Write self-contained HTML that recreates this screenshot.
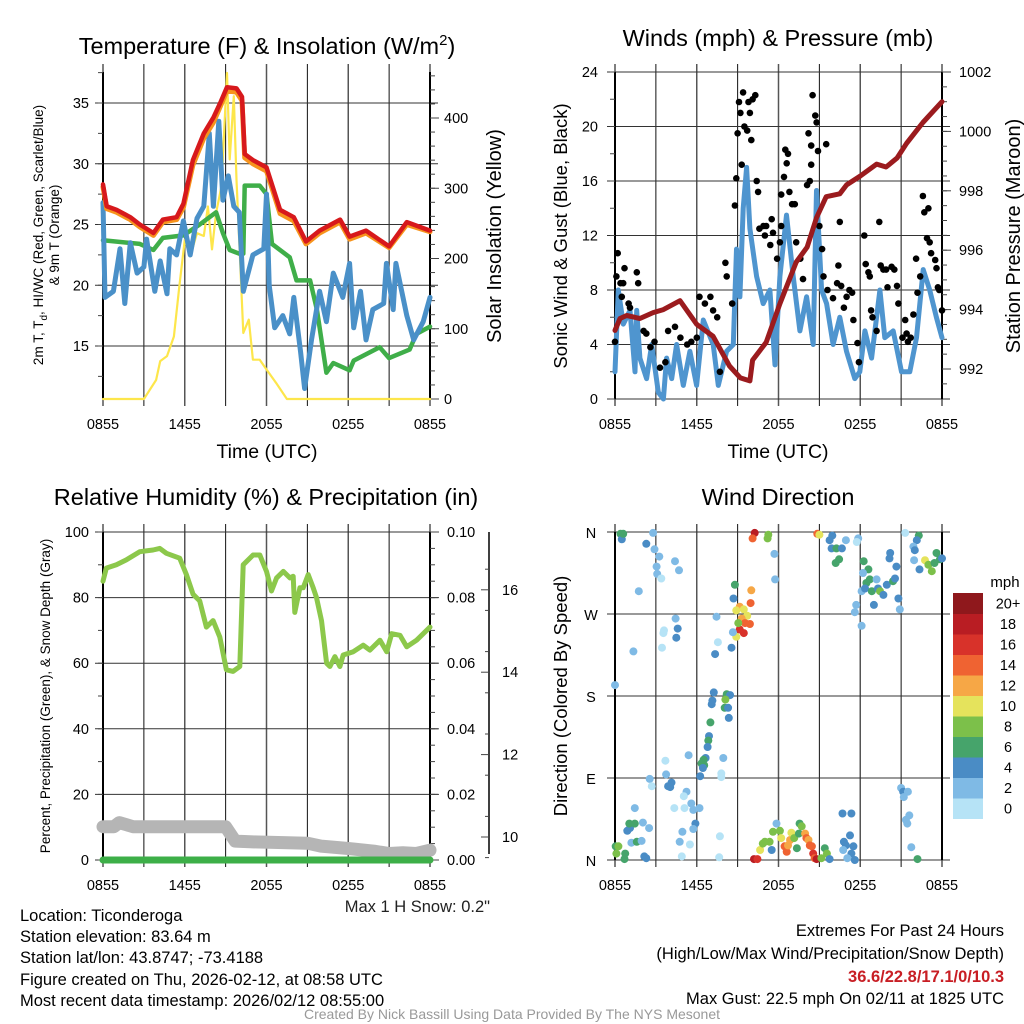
<!DOCTYPE html>
<html><head><meta charset="utf-8"><style>
html,body{margin:0;padding:0;background:#fff;}
svg{display:block;font-family:"Liberation Sans",Arial,sans-serif;}
</style></head><body>
<svg id="fig" width="1024" height="1024" viewBox="0 0 1024 1024">
<rect x="0" y="0" width="1024" height="1024" fill="#fff"/>
<text x="267" y="54" font-size="23.5" text-anchor="middle">Temperature (F) &amp; Insolation (W/m<tspan dy="-9" font-size="15">2</tspan><tspan dy="9">)</tspan></text>
<text x="778" y="46" font-size="23.5" text-anchor="middle">Winds (mph) &amp; Pressure (mb)</text>
<text x="266" y="505" font-size="23.5" text-anchor="middle">Relative Humidity (%) &amp; Precipitation (in)</text>
<text x="778" y="505" font-size="23.5" text-anchor="middle">Wind Direction</text>
<text x="267" y="458" font-size="19.5" text-anchor="middle">Time (UTC)</text>
<text x="778" y="458" font-size="19.5" text-anchor="middle">Time (UTC)</text>
<text transform="translate(43,235) rotate(-90)" font-size="13.5" text-anchor="middle">2m T, T<tspan dy="4" font-size="10">d</tspan><tspan dy="-4">, HI/WC (Red, Green, Scarlet/Blue)</tspan></text>
<text transform="translate(59,235) rotate(-90)" font-size="13.5" text-anchor="middle">&amp; 9m T (Orange)</text>
<text transform="translate(501,236) rotate(-90)" font-size="20" text-anchor="middle">Solar Insolation (Yellow)</text>
<text transform="translate(567,236) rotate(-90)" font-size="18.5" text-anchor="middle">Sonic Wind &amp; Gust (Blue, Black)</text>
<text transform="translate(1020,236) rotate(-90)" font-size="20" text-anchor="middle">Station Pressure (Maroon)</text>
<text transform="translate(50,696) rotate(-90)" font-size="13.5" text-anchor="middle">Percent, Precipitation (Green), &amp; Snow Depth (Gray)</text>
<text transform="translate(567,696) rotate(-90)" font-size="18.5" text-anchor="middle">Direction (Colored By Speed)</text>
<text x="490" y="912" font-size="16.5" text-anchor="end" fill="#222">Max 1 H Snow: 0.2"</text>
<g font-size="16.5" fill="#000">
<text x="20" y="921">Location: Ticonderoga</text>
<text x="20" y="942">Station elevation: 83.64 m</text>
<text x="20" y="963">Station lat/lon: 43.8747; -73.4188</text>
<text x="20" y="985">Figure created on Thu, 2026-02-12, at 08:58 UTC</text>
<text x="20" y="1006">Most recent data timestamp: 2026/02/12 08:55:00</text>
</g>
<g font-size="16.5" text-anchor="end">
<text x="1004" y="936">Extremes For Past 24 Hours</text>
<text x="1004" y="959">(High/Low/Max Wind/Precipitation/Snow Depth)</text>
<text x="1004" y="982" fill="#c81e24" font-weight="bold">36.6/22.8/17.1/0/10.3</text>
<text x="1004" y="1004">Max Gust: 22.5 mph On 02/11 at 1825 UTC</text>
</g>
<text x="512" y="1019" font-size="14" text-anchor="middle" fill="#999">Created By Nick Bassill Using Data Provided By The NYS Mesonet</text>
<text x="1005" y="587" font-size="15" text-anchor="middle">mph</text>
</svg>
<script>
// ---------- DATA ----------
const timeTicks = [0, 6, 12, 18, 24];
const timeTickLabels = ["0855", "1455", "2055", "0255", "0855"];

const tempTicks = [15, 20, 25, 30, 35];
const solarTicks = [0, 100, 200, 300, 400];

const redT = [0,0.27,1,2,2.7,3.7,4.4,5.4,5.9,6.6,7.4,8.1,8.6,9.1,9.8,10.2,10.4,11,12,13,14,14.9,15.9,17.4,18.1,19.3,21,22.3,24];
const redV = [28.3,26.5,26.2,25.6,25,24.3,25.4,25.6,26.7,30.3,32.5,33.8,35,36.3,36.2,35.5,30.8,30.3,29.7,26.2,25.6,23.6,24.5,25.4,24,24.5,23.2,25.2,24.5];
const orangeV = [28.1,26.3,26.0,25.4,24.8,24.1,25.2,25.4,26.4,29.9,32.1,33.4,34.7,36.0,35.9,35.2,30.5,30.0,29.4,25.9,25.3,23.4,24.3,25.2,23.8,24.3,23.1,25.0,24.4];

const greenT = [0,2.7,3.7,4.4,5.9,7.1,8.3,8.8,9.3,10,10.3,10.4,11.5,12,12.4,13.7,14.2,15.2,15.7,16.4,16.9,18.1,18.4,20.3,21,22.5,23,24];
const greenV = [23.7,23.4,22.9,23.9,24.1,25,26,24.3,22.9,22.6,22.6,28.2,28.2,27.5,23.4,22.3,20.4,20.4,18,12.8,13.6,13,13.8,14.9,14,14.7,16,16.6];

const blueT = [0,0.15,0.76,1.25,1.6,2.0,2.5,3.0,3.2,3.8,4.2,4.7,4.9,5.4,5.9,6.4,6.9,7.4,7.8,8.1,8.5,8.8,9.2,9.6,10.0,10.3,11.0,11.8,12.0,12.2,12.6,13.2,13.7,14.0,14.5,14.8,15.3,15.9,16.4,16.9,17.6,18.1,18.4,18.9,19.3,19.8,20.6,20.8,21.3,21.5,22.3,22.8,23.5,24];
const blueV = [26.8,19,19.5,23,18.5,23.5,21,21.5,23.8,19.5,22,19.3,23,22.5,25.3,22.5,25.5,26.5,32.5,26.5,33.5,27,29,26.5,26,19.5,22.5,23.0,27.5,20,16.5,17.5,16,19,14.5,11.5,15.5,19.5,17,21,19,21.8,16.5,19.5,15.5,18,18.5,21.8,18,21.8,17.5,15.5,17,19];

const solarT = [0,3.0,3.9,4.2,4.7,5.2,5.6,6.0,6.4,6.9,7.4,7.7,8.0,8.3,8.7,9.1,9.3,9.6,9.8,10.3,10.7,11.0,11.5,12.0,12.7,13.5,24];
const solarV = [0,0,27,54,61,89,160,227,203,236,232,274,213,265,303,464,341,431,312,94,113,56,56,42,23,0,0];

const windTicks = [0, 4, 8, 12, 16, 20, 24];
const pressTicks = [992, 994, 996, 998, 1000, 1002];

const pressT = [0,0.37,0.86,1.83,2.8,3.55,4.77,6.0,7.2,8.4,9.2,9.9,10.1,11.1,12.1,13.3,14.1,14.8,15.5,16.5,17.0,18.0,19.2,19.9,20.7,21.4,22.6,24];
const pressV = [993.3,993.7,993.8,993.7,993.9,994.0,994.3,993.5,993.1,992.1,991.7,991.6,992.3,992.9,994.2,995.6,996.1,997.1,997.8,997.9,998.2,998.5,998.9,998.8,999.1,999.6,1000.3,1001.0];

const windT = [0,0.24,0.61,1.1,1.47,1.59,1.83,2.32,2.69,3.18,3.55,3.79,4.16,4.52,5.01,5.5,5.99,6.48,7.21,7.58,8.19,8.68,8.92,9.17,9.41,9.66,9.9,10.39,10.88,11.37,11.74,12.1,12.59,13.08,13.57,14.06,14.55,14.79,15.16,15.53,16.01,16.5,16.99,17.6,17.97,18.34,18.83,19.44,19.8,20.42,21.03,21.64,22.13,22.62,23.1,23.59,24];
const windV = [2,8,5.5,6.5,2,6.5,3,1.5,4,0.5,0,3,1.5,4,1,3.5,1,5.8,4,1,3.5,4,11,7.5,14,17,12.5,9,7,8,2.5,9,13.5,9,5,7.5,4,15.3,8,7,4,6,3.5,1.5,2,5,3,8,4.5,5,2,2,4.5,9.5,8,6,4.5];

const gustT = [0,0.1,0.2,0.4,0.6,0.7,0.5,1.0,1.1,1.6,1.7,2.1,2.3,2.6,2.9,3.3,3.7,3.9,4.4,4.8,5.3,5.6,6.0,6.2,6.6,7.0,7.2,7.5,7.7,8.1,8.2,8.6,8.8,8.9,9.0,9.1,9.2,9.3,9.4,9.5,9.7,9.8,9.9,10.0,10.1,10.3,10.4,10.5,10.6,10.9,11.0,11.1,11.4,11.5,11.6,11.9,12.1,12.2,12.2,12.4,12.5,12.6,12.7,12.8,13.0,13.2,13.3,13.6,13.8,14.1,14.2,14.3,14.4,14.4,14.5,14.7,14.8,14.9,15.0,15.2,15.3,15.5,15.6,16.0,16.3,16.4,16.5,16.6,16.8,17.0,17.2,17.4,17.5,17.8,17.9,18.3,18.4,18.6,18.7,18.8,18.9,19.2,19.4,19.5,19.7,19.9,20.0,20.3,20.5,20.7,20.8,21.1,21.3,21.4,21.5,21.7,21.9,22.1,22.2,22.4,22.6,22.7,23.0,22.9,23.1,23.2,23.5,23.6,23.7,23.8,24.0];
const gustV = [4.2,9,10.7,8.5,8.5,9.6,7.5,7,6.7,9.3,8.5,5,4.8,3.8,4.2,2.3,2.7,5,5.3,4.5,4,4.2,4.5,7.5,7,7.5,6.5,6,2,10,9,7,14.2,16.2,19.5,21.8,21,17.2,22.5,20,19.7,21.8,21,19,22,22.3,16,15.2,12.5,12.7,12,12.7,11.3,13.2,12.2,10.3,11.5,12.7,15,16.3,18.3,17.3,18,15.2,14.3,14.3,11.5,10.3,8.8,15.7,19.5,16,17.2,18.6,22.3,20.8,20.3,18.2,12.7,11,9,18.7,8,7.4,8.5,9.8,13,8.3,6.7,7.5,8,7.8,5.8,4.1,2.7,12,9.9,9.3,9,6.5,6,5,13,9.8,9.5,9.5,8.2,9.7,9.5,8.3,7,4.5,5.8,4.8,4.2,4.5,6.2,10.3,7.8,9,14.9,13.7,14,11.8,11.5,10.7,10.2,9.6,8.2,8,6.5];

const rhTicks = [0, 20, 40, 60, 80, 100];
const precipTickLabels = ["0.00", "0.02", "0.04", "0.06", "0.08", "0.10"];
const snowTicks = [10, 12, 14, 16];

const rhT = [0,0.24,0.98,1.71,2.69,3.67,4.16,4.65,5.63,6.12,6.61,7.1,7.59,8.08,8.57,9.06,9.55,10.04,10.29,11.02,11.51,12.0,12.37,12.74,13.23,13.72,13.96,14.08,14.45,14.69,15.06,15.43,15.67,16.04,16.41,16.65,17.02,17.39,17.63,18.37,19.1,19.59,20.33,20.82,21.19,21.8,22.29,23.02,24];
const rhV = [85,89,90,91.5,94,94.5,95,93.5,92,87,81,79,71,73,68,58,57.5,59,90,93,93,88,82,86,88,86,86.5,75.5,83,83,87,83,80,73,60,59,62,59,62.5,63.5,65.5,64,67,63.5,69,68.5,65,67,71];

const precipT = [0, 24];
const precipV = [0, 0];

const snowT = [0,0.8,1.2,1.7,2.2,9.0,9.7,11,15,16,18,20,21,22,23,24];
const snowV = [10.25,10.25,10.35,10.3,10.25,10.25,9.9,9.88,9.85,9.78,9.72,9.65,9.6,9.62,9.6,9.68];

const dirTicks = [0, 90, 180, 270, 360];
const dirTickLabels = ["N", "E", "S", "W", "N"];
const dirT = [0.4,0.5,0.6,2.3,2.8,2.9,3.25,3.05,3.1,3.4,4.4,4.7,1.75,8.8,8.7,10.0,9.95,9.15,8.9,9.45,9.7,9.3,9.55,9.9,9.15,9.45,9.05,8.9,8.65,8.55,7.45,7.55,7.35,10.25,10.1,11.25,11.2,11.7,11.75,14.85,15.0,15.95,15.75,15.9,16.25,16.65,16.45,16.2,16.95,17.85,17.75,18.25,18.6,18.2,18.1,18.45,18.35,18.7,18.85,19.2,19.3,19.45,19.7,19.95,20.15,20.2,20.4,20.55,20.65,20.8,20.9,19.0,17.7,17.6,18.1,21.3,22.3,22.15,21.9,22.0,21.95,22.35,22.75,23.0,23.25,23.6,23.85,23.45,24.0,1.35,0,3.55,3.6,3.45,4.45,4.6,4.5,7.25,7.15,7.1,8.2,8.45,8.1,8.05,8.3,8.35,7.0,6.9,6.85,6.8,6.65,6.5,6.35,6.55,6.45,6.25,7.95,7.8,7.8,5.4,3.7,3.75,2.55,2.7,3.9,4.15,4.05,5.25,5.05,5.6,6.2,5.75,5.9,5.75,4.35,5.1,1.45,0.05,0.25,0.1,0.75,0.7,0.9,1.1,1.05,1.45,1.2,1.6,1.95,2.05,2.5,2.15,2.3,4.95,4.75,5.5,4.9,7.7,7.65,10.2,10.45,10.65,10.85,11.0,11.35,11.6,11.5,11.85,12.1,12.2,12.45,12.6,12.7,12.85,12.95,13.15,13.35,13.55,13.7,13.5,13.95,14.05,14.2,14.3,14.45,14.55,14.65,14.8,15.15,15.4,15.55,15.75,16.7,17.35,16.8,16.95,17.25,17.5,17.35,17.05,17.6,16.75,21.0,21.15,21.5,21.2,21.6,21.45,21.35,21.75,22.2];
const dirDeg = [358,352,358,347,359,341,333,322,314,309,328,318,295,302,287,296,282,278,274,275,268,265,260,259,253,249,260,245,250,233,267,239,226,359,353,357,353,336,308,358,357,356,351,342,342,342,330,326,351,353,349,328,319,315,295,304,298,308,295,308,298,295,291,302,331,337,306,309,322,287,275,280,280,272,257,359,356,351,344,340,329,319,329,324,317,337,330,326,331,229,192,249,252,233,265,254,244,184,175,171,182,181,176,167,167,156,151,136,131,124,112,110,106,104,101,92,112,95,91,115,109,94,89,81,81,85,80,75,70,62,57,55,40,34,57,57,57,15,15,7,7,1,32,35,40,40,19,20,21,41,35,4,2,31,20,17,4,26,3,1,1,11,18,20,20,31,11,40,32,24,15,9,16,22,30,24,13,40,37,29,29,24,22,16,15,7,2,1,2,13,7,1,51,51,20,16,27,15,7,2,0,11,79,75,75,69,49,40,44,14,1];
const dirSpd = [6.5,4.5,6.5,4.5,2.5,2.5,2.5,2.5,2.5,0.5,2.5,2.5,2.5,6.5,4.5,12.5,14.5,12.5,10.5,10.5,10.5,12.5,14.5,14.5,16.5,16.5,8.5,10.5,2.5,4.5,2.5,0.5,4.5,18.5,14.5,8.5,8.5,2.5,2.5,14.5,10.5,4.5,4.5,4.5,6.5,4.5,6.5,6.5,2.5,2.5,0.5,6.5,6.5,2.5,2.5,6.5,4.5,6.5,6.5,2.5,4.5,8.5,4.5,4.5,4.5,4.5,6.5,4.5,4.5,4.5,2.5,4.5,2.5,2.5,2.5,0.5,6.5,4.5,2.5,4.5,2.5,4.5,10.5,8.5,8.5,6.5,6.5,6.5,4.5,2.5,2.5,0.5,0.5,0.5,2.5,4.5,4.5,4.5,4.5,4.5,6.5,4.5,8.5,6.5,4.5,4.5,6.5,4.5,6.5,4.5,4.5,6.5,6.5,6.5,4.5,4.5,2.5,0.5,0.5,2.5,0.5,2.5,2.5,0.5,4.5,4.5,4.5,2.5,0.5,2.5,2.5,2.5,4.5,2.5,0.5,0.5,2.5,6.5,8.5,8.5,6.5,6.5,4.5,4.5,6.5,6.5,2.5,6.5,2.5,2.5,2.5,4.5,4.5,2.5,2.5,0.5,0.5,0.5,0.5,18.5,16.5,10.5,8.5,8.5,8.5,8.5,4.5,2.5,8.5,10.5,14.5,14.5,12.5,12.5,10.5,8.5,6.5,6.5,8.5,6.5,12.5,14.5,12.5,14.5,14.5,16.5,14.5,18.5,8.5,6.5,8.5,4.5,4.5,4.5,4.5,4.5,4.5,4.5,4.5,2.5,4.5,2.5,2.5,4.5,2.5,2.5,2.5,2.5,2.5,2.5,6.5];

const cbLabels = ["0", "2", "4", "6", "8", "10", "12", "14", "16", "18", "20+"];
const cbColors = ["#b6e3f6","#7fbae5","#4a8cc5","#46a46b","#7cc04a","#e5e35c","#f6a746","#ef6332","#d8322a","#b91d23","#8f181c"];

// ---------- DRAWING ----------
const NS = "http://www.w3.org/2000/svg";
const svg = document.getElementById("fig");
function mk(tag, attrs, parent) {
  const e = document.createElementNS(NS, tag);
  for (const k in attrs) e.setAttribute(k, attrs[k]);
  (parent || svg).appendChild(e);
  return e;
}
function pathD(xs, ys, fx, fy) {
  let d = "";
  for (let i = 0; i < xs.length; i++) d += (i ? "L" : "M") + fx(xs[i]).toFixed(1) + "," + fy(ys[i]).toFixed(1);
  return d;
}
function drawLine(g, xs, ys, fx, fy, color, w, name) {
  const p = mk("path", {d: pathD(xs, ys, fx, fy), fill: "none", stroke: color, "stroke-width": w, "stroke-linejoin": "round", "stroke-linecap": "round"}, g);
  
  
  return p;
}
function txt(g, x, y, s, size, anchor, name) {
  const t = mk("text", {x: x, y: y, "font-size": size, "text-anchor": anchor}, g);
  t.textContent = s;
  
  
  return t;
}
function frame(g, x0, x1, y0, y1, hVals, fy, name) {
  const grid = mk("g", {stroke: "#111", "stroke-width": 1}, g);
  
  
  for (let k = 0; k <= 8; k++) {
    const x = x0 + k * (x1 - x0) / 8;
    const vl = mk("line", {x1: x, x2: x, y1: y0 - 8, y2: y1 + 7, stroke: (k % 2 ? "#111" : "#555"), "stroke-width": (k % 2 ? 1 : 1.5)}, grid);
    
    
  }
  hVals.forEach(v => {
    const y = fy(v);
    const hl = mk("line", {x1: x0 - 8, x2: x1 + 8, y1: y, y2: y, stroke: "#333"}, grid);
    
    
  });
  const l = mk("line", {x1: x0, x2: x0, y1: y0, y2: y1, stroke: "#000", "stroke-width": 2}, g);
  
  
  const r = mk("line", {x1: x1, x2: x1, y1: y0, y2: y1, stroke: "#000", "stroke-width": 2}, g);
  
  
}
function xLabels(g, x0, x1, y, name) {
  timeTicks.forEach((t, i) => {
    txt(g, x0 + t / 24 * (x1 - x0), y, timeTickLabels[i], 14.5, "middle", name + '-x-tick-label');
  });
}
function minorTicks(g, xa, dir, ys, len) {
  ys.forEach(y => {
    const m = mk("line", {x1: xa, x2: xa + dir * len, y1: y, y2: y, stroke: "#444", "stroke-width": 1}, g);
    
    
  });
}

// ===== Panel 1: temperature =====
{
  const x0 = 103, x1 = 430, y0 = 72, y1 = 399;
  const fx = t => x0 + t / 24 * (x1 - x0);
  const fy = v => 346 - (v - 15) * 12.15;
  const fs = s => 399 - s * 0.7025;
  const g = mk("g", {});
  
  
  frame(g, x0, x1, y0, y1, tempTicks, fy, 'temperature');
  const mt = []; for (let v = 12.5; v <= 37.5; v += 2.5) mt.push(fy(v));
  minorTicks(g, x0, -1, mt, 5);
  const ms = []; for (let s = 0; s <= 460; s += 20) ms.push(fs(s));
  minorTicks(g, x1, 1, ms, 5);
  solarTicks.forEach(s => { minorTicks(g, x1, 1, [fs(s)], 9); });
  tempTicks.forEach(v => txt(g, 89, fy(v) + 5, String(v), 14.5, "end", 'temp-y-tick-label'));
  solarTicks.forEach(s => txt(g, 444, fs(s) + 5, String(s), 14.5, "start", 'solar-y-tick-label'));
  xLabels(g, x0, x1, 429, 'temperature');
  drawLine(g, solarT, solarV, fx, fs, "#fde64b", 2.2, 'solar-insolation-line');
  drawLine(g, greenT, greenV, fx, fy, "#3fae49", 4.5, 'dewpoint-line');
  drawLine(g, blueT, blueV, fx, fy, "#4a90c8", 5, 'windchill-line');
  drawLine(g, redT, orangeV, fx, fy, "#f7941d", 5, 'temp-9m-line');
  drawLine(g, redT, redV, fx, fy, "#d7191c", 4.5, 'temp-2m-line');
}

// ===== Panel 2: winds =====
{
  const x0 = 615, x1 = 942, y0 = 72, y1 = 399;
  const fx = t => x0 + t / 24 * (x1 - x0);
  const fw = w => 399 - w * 13.625;
  const fp = p => 369 - (p - 992) * 29.7;
  const g = mk("g", {});
  
  
  frame(g, x0, x1, y0, y1, windTicks, fw, 'wind');
  const mw = []; for (let w = 0; w <= 24; w += 2) mw.push(fw(w));
  minorTicks(g, x0, -1, mw, 5);
  const mp = []; for (let p = 991.5; p <= 1002; p += 0.5) mp.push(fp(p));
  minorTicks(g, x1, 1, mp, 5);
  pressTicks.forEach(p => minorTicks(g, x1, 1, [fp(p)], 9));
  windTicks.forEach(w => txt(g, 598, fw(w) + 5, String(w), 14.5, "end", 'wind-y-tick-label'));
  pressTicks.forEach(p => txt(g, 959, fp(p) + 5, String(p), 14.5, "start", 'pressure-y-tick-label'));
  xLabels(g, x0, x1, 429, 'wind');
  drawLine(g, windT, windV, fx, fw, "#4f95cf", 5, 'sonic-wind-line');
  const dots = mk("g", {fill: "#000"}, g);
  
  
  gustT.forEach((t, i) => {
    const c = mk("circle", {cx: fx(t).toFixed(1), cy: fw(gustV[i]).toFixed(1), r: 3.3}, dots);
    
    
  });
  drawLine(g, pressT, pressV, fx, fp, "#9b1b1e", 5, 'pressure-line');
}

// ===== Panel 3: RH =====
{
  const x0 = 103, x1 = 430, y0 = 532, y1 = 860;
  const fx = t => x0 + t / 24 * (x1 - x0);
  const fr = r => 860 - r * 3.28;
  const fp = p => 860 - p * 3280;
  const fsn = s => 837 - (s - 10) * 41.2;
  const g = mk("g", {});
  
  
  frame(g, x0, x1, y0, y1, rhTicks, fr, 'humidity');
  const mr = []; for (let r = 0; r <= 100; r += 10) mr.push(fr(r));
  minorTicks(g, x0, -1, mr, 5);
  const mp = []; for (let r = 0; r <= 100; r += 5) mp.push(fr(r));
  minorTicks(g, x1, 1, mp, 5);
  rhTicks.forEach((r, i) => {
    txt(g, 89, fr(r) + 5, String(r), 14.5, "end", 'rh-y-tick-label');
    txt(g, 447, fr(r) + 5, precipTickLabels[i], 14.5, "start", 'precip-y-tick-label');
    minorTicks(g, x1, 1, [fr(r)], 9);
  });
  const sa = mk("line", {x1: 489, x2: 489, y1: y0, y2: y1 - 6, stroke: "#000", "stroke-width": 1.5}, g);
  
  
  const msn = []; for (let s = 9.5; s <= 17.5; s += 1) msn.push(fsn(s));
  minorTicks(g, 489, -1, msn.filter(y => y > y0 && y < y1), 4);
  snowTicks.forEach(s => {
    minorTicks(g, 489, -1, [fsn(s)], 8);
    txt(g, 502, fsn(s) + 5, String(s), 14.5, "start", 'snow-y-tick-label');
  });
  xLabels(g, x0, x1, 890, 'humidity');
  drawLine(g, snowT, snowV, fx, fsn, "#b5b5b5", 13, 'snow-depth-line');
  drawLine(g, rhT, rhV, fx, fr, "#8cc84b", 5, 'relative-humidity-line');
  drawLine(g, precipT, precipV, fx, fp, "#3daf48", 7, 'precipitation-line');
}

// ===== Panel 4: wind direction =====
{
  const x0 = 615, x1 = 942, y0 = 532, y1 = 860;
  const fx = t => x0 + t / 24 * (x1 - x0);
  const fd = d => 860 - d * 0.9111;
  const g = mk("g", {});
  
  
  frame(g, x0, x1, y0, y1, dirTicks, fd, 'direction');
  dirTicks.forEach((d, i) => txt(g, 591, fd(d) + 6, dirTickLabels[i], 14.5, "middle", 'direction-y-tick-label'));
  xLabels(g, x0, x1, 890, 'direction');
  const dots = mk("g", {}, g);
  
  
  dirT.forEach((t, i) => {
    const idx = Math.min(10, Math.floor(dirSpd[i] / 2));
    const c = mk("circle", {cx: fx(t).toFixed(1), cy: fd(dirDeg[i]).toFixed(1), r: 4, fill: cbColors[idx]}, dots);
    
    
  });
  const cb = mk("g", {}, g);
  
  
  const cbTop = 593, cbH = 20.5;
  cbLabels.forEach((lab, i) => {
    const y = cbTop + (10 - i) * cbH;
    const r = mk("rect", {x: 953, y: y, width: 30, height: cbH + 0.5, fill: cbColors[i]}, cb);
    
    
    txt(cb, 1008, y + cbH / 2 + 5, lab, 14.5, "middle", 'colorbar-label');
  });
}
</script>
</body></html>
